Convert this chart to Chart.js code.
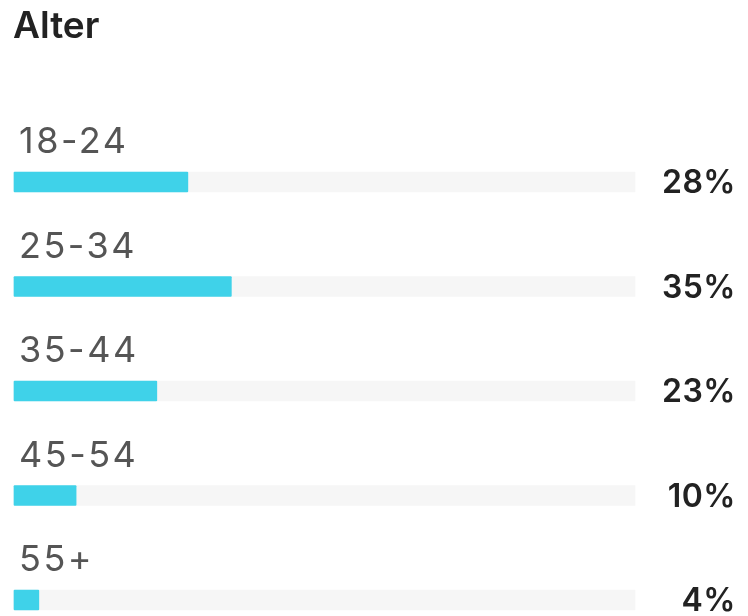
<!DOCTYPE html>
<html>
<head>
<meta charset="utf-8">
<script src="https://cdn.jsdelivr.net/npm/chart.js@4"></script>
<style>
  html, body { margin: 0; padding: 0; background: #fff; }
  #wrap { width: 748px; height: 616px; }
</style>
</head>
<body>
<div id="wrap"><canvas id="age-chart" width="748" height="616"></canvas></div>
<script>
const title = 'Alter';
const groups = ['18-24', '25-34', '35-44', '45-54', '55+'];
const shares = [28, 35, 23, 10, 4];
const track = [100, 100, 100, 100, 100];

const FONT = 'Inter, "Noto Sans", sans-serif';

// labels above bars, percent at right, title at top
const textPlugin = {
    id: 'ageText',
    afterDatasetsDraw(chart) {
        const { ctx } = chart;
        const y = chart.scales.y;
        ctx.save();
        ctx.textBaseline = 'alphabetic';

        ctx.fillStyle = '#222';
        ctx.font = `600 37px ${FONT}`;
        ctx.textAlign = 'left';
        ctx.fillText(title, 13, 38);

        groups.forEach((g, i) => {
            const cy = y.getPixelForValue(i);
            ctx.fillStyle = '#555';
            ctx.font = `400 36px ${FONT}`;
            ctx.letterSpacing = '2.5px';
            ctx.textAlign = 'left';
            ctx.fillText(g, 19, cy - 29);

            ctx.fillStyle = '#222';
            ctx.font = `600 32px ${FONT}`;
            ctx.letterSpacing = '0.5px';
            ctx.textAlign = 'right';
            ctx.fillText(shares[i] + '%', 736, cy + 11);
            ctx.letterSpacing = '0px';
        });
        ctx.restore();
    }
};

new Chart(document.getElementById('age-chart').getContext('2d'), {
    type: 'bar',
    data: {
        labels: groups,
        datasets: [
            { data: shares, backgroundColor: '#3fd2e9', barThickness: 20, borderRadius: 1, borderSkipped: false, clip: false, order: 0 },
            { data: track, backgroundColor: '#f6f6f6', barThickness: 20, clip: false, order: 1 }
        ]
    },
    options: {
        indexAxis: 'y',
        animation: false,
        responsive: false,
        layout: { padding: { top: 182, bottom: 16, left: 14, right: 113 } },
        datasets: { bar: { grouped: false } },
        scales: {
            x: { display: false, min: 0, max: 100 },
            y: { display: false, offset: false }
        },
        plugins: { legend: { display: false }, tooltip: { enabled: false } }
    },
    plugins: [textPlugin]
});
</script>
</body>
</html>
